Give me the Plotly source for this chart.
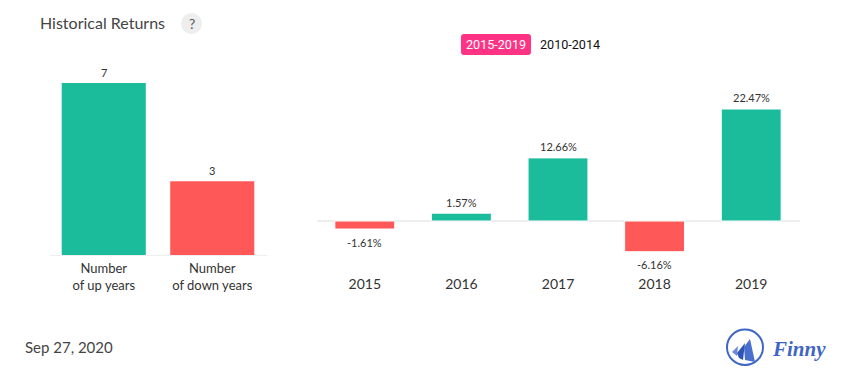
import plotly.graph_objects as go

W, H = 855, 382
count_labels = ["Number<br>of up years", "Number<br>of down years"]
count_values = [7, 3]
years = ["2015", "2016", "2017", "2018", "2019"]
returns = [-1.61, 1.57, 12.66, -6.16, 22.47]
return_labels = ["-1.61%", "1.57%", "12.66%", "-6.16%", "22.47%"]
GREEN, RED = "#1abc9c", "#ff5858"
FONT = "Lato"

def px(x): return x / W
def py(y): return 1 - y / H

fig = go.Figure()
fig.add_bar(x=count_labels, y=count_values, xaxis="x", yaxis="y",
            marker=dict(color=[GREEN if v == 7 else RED for v in count_values], line_width=0),
            width=0.775, hoverinfo="skip")
fig.add_bar(x=years, y=returns, xaxis="x2", yaxis="y2",
            marker=dict(color=[GREEN if v >= 0 else RED for v in returns],
                        line=dict(color="white", width=1)),
            width=0.62, hoverinfo="skip")

left_scale = (255 - 83) / 7
right_scale = (221 - 109) / 22.47
rt, rb = 90, 270

shapes = [
    dict(type="circle", xref="paper", yref="paper", x0=px(181), x1=px(202), y0=py(34), y1=py(13),
         fillcolor="#eeeeee", line_width=0, layer="below"),
    dict(type="path", xref="paper", yref="paper", layer="below", fillcolor="#ff3385", line_width=0,
         path=" ".join([
             f"M {px(464)} {py(34)} L {px(528)} {py(34)} Q {px(531)} {py(34)} {px(531)} {py(37)}",
             f"L {px(531)} {py(52)} Q {px(531)} {py(55)} {px(528)} {py(55)}",
             f"L {px(464)} {py(55)} Q {px(461)} {py(55)} {px(461)} {py(52)}",
             f"L {px(461)} {py(37)} Q {px(461)} {py(34)} {px(464)} {py(34)} Z"])),
    dict(type="circle", xref="paper", yref="paper", x0=px(727), x1=px(763), y0=py(365), y1=py(329.5),
         line=dict(color="#3f66c4", width=2), fillcolor="rgba(0,0,0,0)"),
]
for pts, col in [
    ([(732, 352), (738, 346), (737, 356)], "#6a8ad8"),
    ([(737, 353), (745, 343), (743, 360), (739, 358)], "#2f55b8"),
    ([(744, 347), (750, 339), (755, 362), (745, 360)], "#4a6fcc"),
]:
    d = "M " + " L ".join(f"{px(a)} {py(b)}" for a, b in pts) + " Z"
    shapes.append(dict(type="path", xref="paper", yref="paper", path=d, fillcolor=col, line_width=0))

def note(x, y, text, size, color="#333", anchor="left", family=FONT):
    return dict(xref="paper", yref="paper", x=px(x), y=py(y), text=text, showarrow=False,
                xanchor=anchor, yanchor="middle", font=dict(family=family, size=size, color=color))

annotations = [
    note(38, 22, "Historical Returns", 16, "#444"),
    note(191.5, 23.5, "?", 14, "#555", "center"),
    note(496, 44.5, "2015-2019", 12.6, "white", "center", "Roboto"),
    note(569.5, 44.5, "2010-2014", 12.6, "#111", "center", "Roboto"),
    note(23, 347, "Sep 27, 2020", 15, "#444"),
    note(770, 349, "<b><i>Finny</i></b>", 21, "#3f66c4", family="Liberation Serif"),
]

def value_label(xref, yref, i, v, text, up, down):
    # on a category axis an annotation's x is the category's index
    return dict(xref=xref, yref=yref, x=i, y=v, text=text, showarrow=False,
                xanchor="center", yanchor="middle", yshift=up if v >= 0 else -down,
                font=dict(family=FONT, size=11, color="#333"))

annotations += [value_label("x", "y", i, v, str(v), 11, 13) for i, v in enumerate(count_values)]
annotations += [value_label("x2", "y2", i, v, t, 11, 13) for i, (v, t) in enumerate(zip(returns, return_labels))]

fig.update_layout(
    width=W, height=H, margin=dict(l=0, r=0, t=0, b=0), showlegend=False,
    paper_bgcolor="white", plot_bgcolor="white", shapes=shapes, annotations=annotations,
    font=dict(family=FONT),
    xaxis=dict(type="category", categoryorder="array", categoryarray=count_labels, range=[-0.5, 1.5],
               domain=[px(49.5), px(266.5)], anchor="y", showline=True, linecolor="#eeeeee", linewidth=1,
               ticks="", ticklabelstandoff=1, tickfont=dict(family=FONT, size=13, color="#333"), fixedrange=True),
    yaxis=dict(domain=[py(255), py(70)], range=[0, (255 - 70) / left_scale], visible=False, fixedrange=True),
    xaxis2=dict(type="category", categoryorder="array", categoryarray=years, range=[-0.5, 4.5],
                domain=[px(316.5), px(799.5)], anchor="y2", showline=False, ticks="", showgrid=False,
                ticklabelstandoff=4, tickfont=dict(family=FONT, size=14, color="#333"), fixedrange=True),
    yaxis2=dict(domain=[py(rb), py(rt)], range=[-(rb - 221) / right_scale, (221 - rt) / right_scale],
                showticklabels=False, showgrid=False, ticks="", showline=False,
                zeroline=True, zerolinecolor="#eeeeee", zerolinewidth=2, fixedrange=True),
)
fig.write_html("out.html", config={"displayModeBar": False},
               post_script="document.body.style.margin='0';document.documentElement.style.overflow='hidden';")
